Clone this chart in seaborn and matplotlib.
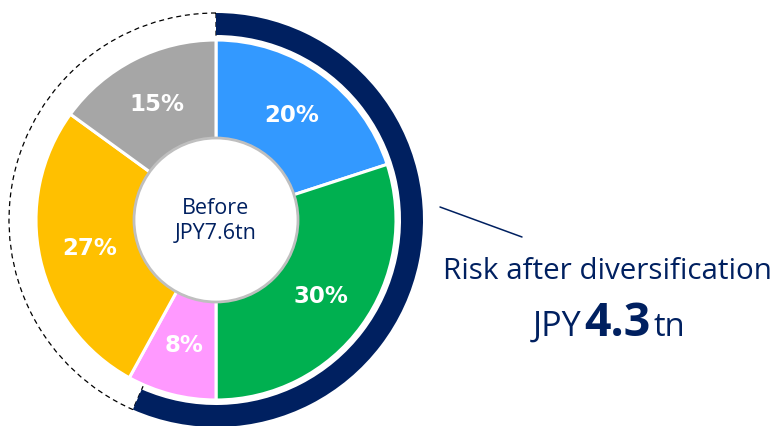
import matplotlib.pyplot as plt
from matplotlib.patches import Wedge, Circle
import seaborn as sns

sns.set_theme(style="white")
plt.rcParams['font.family'] = ['Open Sans', 'DejaVu Sans']

# data
shares = [20, 30, 8, 27, 15]
share_colors = ['#3399FF', '#00B050', '#FF99FF', '#FFC000', '#A6A6A6']
risk_before = 7.6
risk_after = 4.3
navy = '#002060'

fig = plt.figure(figsize=(7.77, 4.26), dpi=100)
ax = fig.add_axes([0, 0, 1, 1])

cx, cy = 216, 206
r_pie = 180

# pie of the risk breakdown
wedges, texts, autotexts = ax.pie(
    shares, colors=share_colors, startangle=90, counterclock=False,
    radius=r_pie, center=(cx, cy), autopct='%1.0f%%', pctdistance=0.72,
    wedgeprops=dict(edgecolor='white', linewidth=2.2),
    textprops=dict(color='white', fontsize=16.5, fontweight='bold',
                   family='DejaVu Sans'))
for w in wedges:
    w.set_zorder(3)
for t in autotexts:
    t.set_zorder(5)

# outer arc: share kept after diversification
span = 360 * risk_after / risk_before
ax.add_patch(Wedge((cx, cy), 207, 90 - span, 90, width=22,
                   facecolor=navy, edgecolor='none', zorder=2))
ax.add_patch(Wedge((cx, cy), 207, 90, 90 - span + 360, width=30,
                   fill=False, edgecolor='black', linestyle=(0, (4, 3)),
                   linewidth=0.9, zorder=1))

# centre hole
ax.add_patch(Circle((cx, cy), 82, facecolor='white', edgecolor='#BFBFBF',
                    linewidth=2, zorder=4))
ax.text(cx, cy - 1, f'Before\nJPY{risk_before}tn', ha='center', va='center',
        fontsize=15.5, color=navy, linespacing=1.3, zorder=6)

# callout
ax.plot([440, 522], [426 - 207, 426 - 237], color=navy, lw=1.1)
ax.text(607, 426 - 279, 'Risk after diversification', ha='center',
        va='baseline', fontsize=21.3, color=navy)
ax.text(581, 426 - 336, 'JPY', ha='right', va='baseline', fontsize=24.5, color=navy)
ax.text(617.5, 426 - 336, f'{risk_after}', ha='center', va='baseline',
        fontsize=33.5, fontweight='bold', color=navy)
ax.text(654, 426 - 336, 'tn', ha='left', va='baseline', fontsize=23.5, color=navy)

ax.set_xlim(0, 777)
ax.set_ylim(0, 426)
ax.set_aspect('equal')
ax.axis('off')

fig.savefig('out.png', dpi=100, facecolor='white')
